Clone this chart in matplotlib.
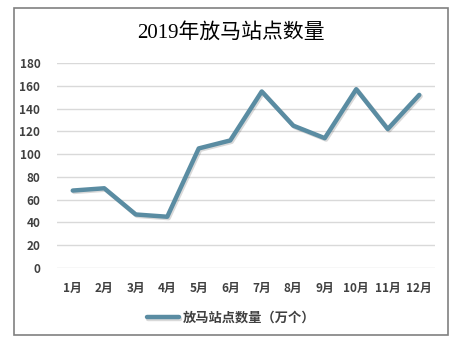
import matplotlib
matplotlib.use("Agg")
import matplotlib.pyplot as plt
import matplotlib.patheffects as pe
from matplotlib.patches import Rectangle

plt.rcParams['font.family'] = ['Noto Sans CJK SC', 'DejaVu Sans']

months = ['1月', '2月', '3月', '4月', '5月', '6月', '7月', '8月', '9月', '10月', '11月', '12月']
values = [68, 70, 47, 45, 105, 112, 155, 125, 114, 157, 122, 152]
series_name = '放马站点数量（万个）'
title = '2019年放马站点数量'
yticks = [0, 20, 40, 60, 80, 100, 120, 140, 160, 180]

W, H = 462, 343
fig = plt.figure(figsize=(W / 100, H / 100), dpi=100)
fig.patch.set_facecolor('white')

# outer border
fig.patches.append(Rectangle((14 / W, 1 - 335 / H), (448 - 14) / W, (335 - 8) / H,
                             transform=fig.transFigure, fill=False,
                             edgecolor='#808080', linewidth=1.2))

ax = fig.add_axes([57 / W, 1 - 268 / H, (435 - 57) / W, (268 - 63) / H])
x = list(range(len(months)))
line, = ax.plot(x, values, color='#5a8ca2', linewidth=3.2, solid_capstyle='round',
                solid_joinstyle='round', label=series_name,
                path_effects=[pe.SimpleLineShadow(offset=(1.0, -1.0), shadow_color='#000000', alpha=0.15),
                              pe.Normal()])

ax.set_xlim(-0.5, len(months) - 0.5)
ax.set_ylim(0, 180)
ax.set_yticks(yticks)
ax.set_yticklabels([str(v) for v in yticks])
ax.set_xticks(x)
ax.set_xticklabels(months)
ax.grid(axis='y', color='#d9d9d9', linewidth=1)
ax.set_axisbelow(True)
for s in ax.spines.values():
    s.set_visible(False)
ax.tick_params(axis='both', length=0, labelsize=8.5, labelcolor='#404040')
ax.tick_params(axis='y', pad=12)
ax.tick_params(axis='x', pad=10)
for lab in ax.get_xticklabels() + ax.get_yticklabels():
    lab.set_fontweight('bold')

fig.text(0.5, 1 - 33 / H, title, ha='center', va='center', fontsize=15,
         color='#000000', family=['Liberation Serif', 'Noto Sans CJK SC'])

leg = fig.legend(handles=[line], loc='center', bbox_to_anchor=(0.5, 1 - 318 / H),
                 frameon=False, handlelength=2.4, handletextpad=0.3,
                 prop={'size': 9.5, 'weight': 'bold'})
for t in leg.get_texts():
    t.set_color('#404040')

fig.savefig('out.png', dpi=100)
